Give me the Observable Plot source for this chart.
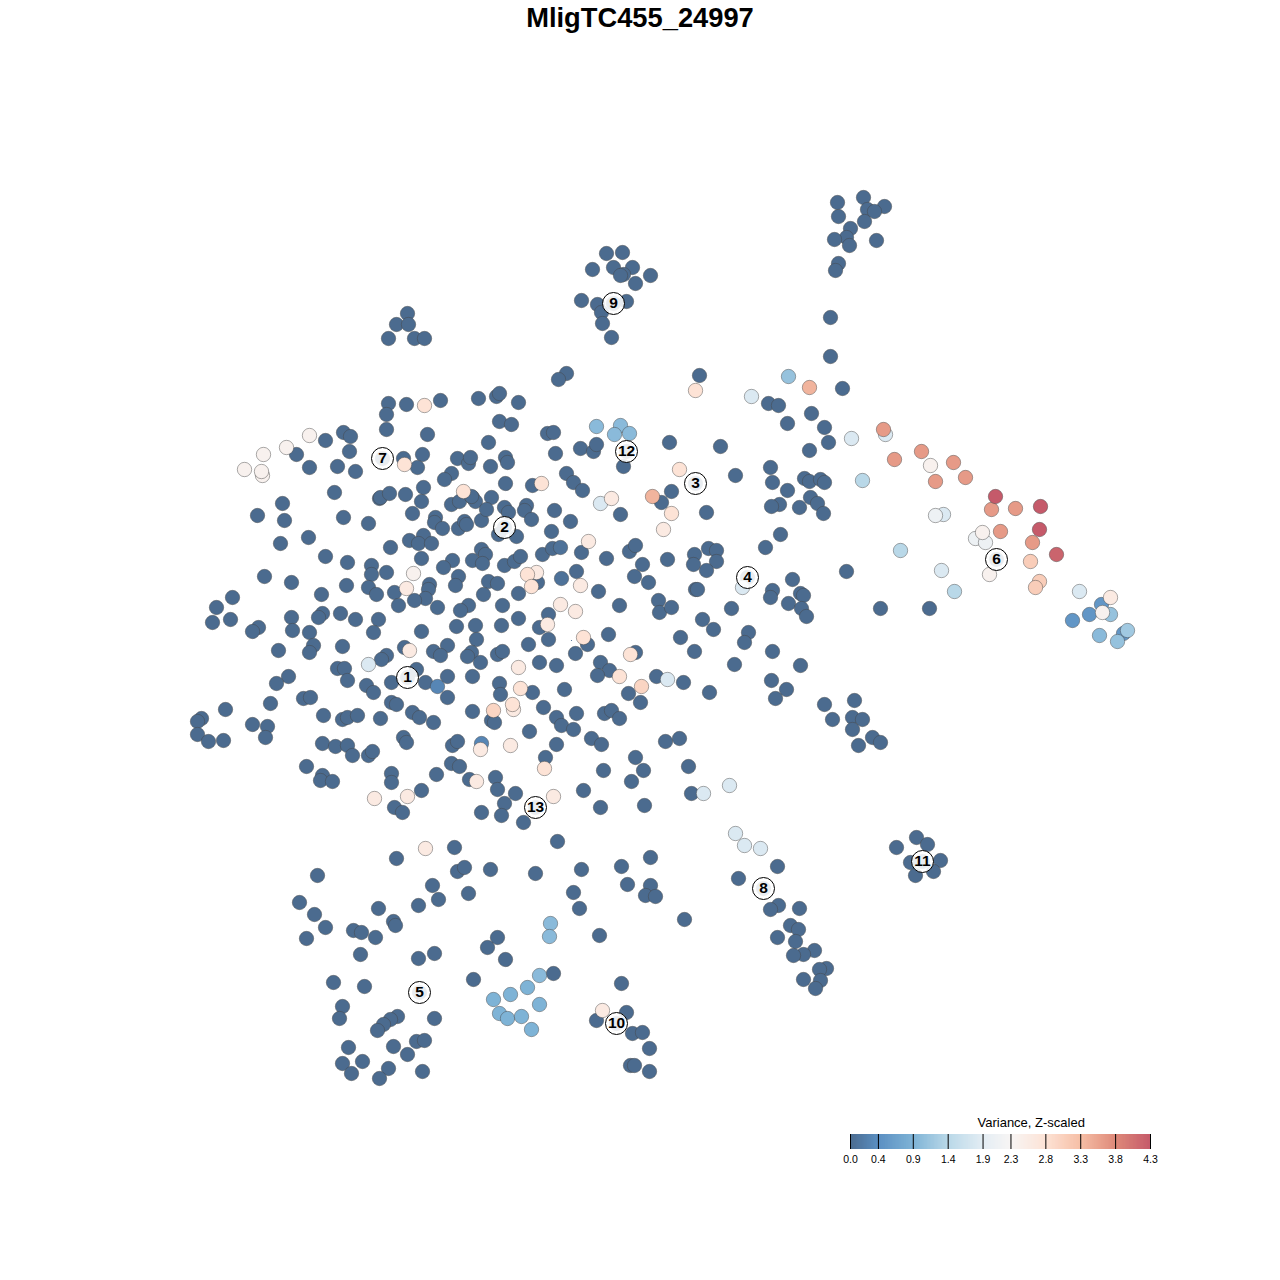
<!DOCTYPE html>
<html>
<head>
<meta charset="utf-8">
<title>MligTC455_24997</title>
<script src="https://cdn.jsdelivr.net/npm/d3@7"></script>
<script src="https://cdn.jsdelivr.net/npm/@observablehq/plot@0.6"></script>
<style>
html,body{margin:0;padding:0;background:#fff}
#stage{position:relative;width:1280px;height:1280px;overflow:hidden}
#chart-title{position:absolute;left:0;top:2px;width:1280px;text-align:center;font:bold 27.3px/32px "Liberation Sans",Arial,sans-serif;color:#000}
#main,#legend{position:absolute}
#main{left:0;top:0}
#legend{left:830px;top:1105px}
</style>
</head>
<body>
<div id="stage">
<div id="main"></div>
<div id="chart-title">MligTC455_24997</div>
<div id="legend"></div>
</div>
<script>
const titleText = "MligTC455_24997";
const legendTitle = "Variance, Z-scaled";
const colorDomain = [0,0.4,0.9,1.4,1.9,2.3,2.8,3.3,3.8,4.3];
const colorRange = ["#4b6b8f","#5b8fc2","#7eb3d6","#b9d8e8","#e3edf4","#f7f5f4","#fde3d6","#f6bfa6","#df8a7a","#c55a6a"];
const legendTicks = [0,0.4,0.9,1.4,1.9,2.3,2.8,3.3,3.8,4.3];
const clusterIds = [1,2,3,4,5,6,7,8,9,10,11,12,13];
const clusterX = [407,504,695,747,419,996,382,763,613,616,922,626,535];
const clusterY = [677,527,483,577,992,559,458,888,303,1023,861,451,807];

const level00 = [[388,403],[406,404],[440,400],[386,414],[386,429],[427,434],[343,432],[350,436],[325,440],[296,454],[349,451],[309,467],[337,466],[355,471],[403,458],[422,454],[417,467],[457,458],[468,463],[470,457],[451,473],[444,479],[334,492],[379,498],[380,497],[389,493],[405,494],[423,487],[421,501],[451,504],[459,501],[472,497],[475,501],[282,503],[257,515],[284,520],[343,517],[368,523],[412,513],[435,517],[434,522],[442,528],[458,528],[464,521],[466,524],[481,520],[280,543],[308,537],[325,556],[347,562],[390,547],[409,540],[423,535],[418,543],[431,543],[421,558],[452,560],[443,567],[472,560],[371,565],[371,574],[386,572],[264,576],[291,582],[346,585],[368,587],[376,594],[394,592],[429,584],[428,589],[425,598],[414,600],[398,605],[437,607],[458,576],[455,585],[468,605],[460,610],[321,594],[232,597],[216,607],[212,622],[230,619],[291,617],[322,613],[318,617],[340,613],[355,619],[378,619],
[478,398],[496,396],[499,393],[518,402],[499,421],[511,424],[547,433],[553,432],[488,442],[555,453],[580,448],[593,451],[596,444],[669,442],[623,466],[505,457],[507,462],[490,466],[505,483],[532,485],[566,473],[573,482],[582,490],[671,491],[661,502],[620,514],[491,497],[471,496],[504,507],[508,512],[486,509],[526,505],[524,510],[531,519],[554,510],[570,521],[498,534],[516,536],[551,531],[481,549],[485,554],[482,563],[504,565],[514,561],[520,556],[542,554],[552,548],[581,552],[606,558],[629,551],[635,545],[642,564],[667,559],[694,554],[693,564],[488,581],[497,583],[483,594],[502,605],[518,593],[537,582],[576,571],[598,591],[634,576],[648,582],[619,605],[658,600],[659,612],[671,607],[695,589],[548,614],[518,618],
[258,627],[252,631],[292,630],[309,632],[373,632],[421,631],[456,626],[475,625],[476,639],[278,650],[342,646],[313,645],[309,652],[386,655],[381,659],[404,647],[447,645],[433,651],[440,655],[471,652],[467,656],[480,662],[337,668],[344,668],[347,680],[288,676],[276,683],[366,685],[373,692],[391,682],[416,669],[425,682],[447,676],[472,676],[447,697],[270,703],[303,698],[310,697],[391,702],[396,704],[323,715],[342,719],[347,717],[357,715],[380,718],[412,712],[419,717],[433,722],[472,711],[225,709],[201,718],[197,721],[197,734],[208,741],[223,740],[252,724],[267,726],[265,737],[403,737],[406,742],[322,743],[335,746],[347,745],[352,755],[368,755],[372,751],[452,745],[457,741],[306,766],[322,775],[320,780],[332,781],[391,773],[391,782],[436,774],[451,763],[459,766],[469,779],[421,790],[394,807],[402,812],[481,812],
[501,625],[539,627],[528,644],[548,639],[497,654],[502,651],[539,662],[556,665],[575,653],[587,644],[608,634],[702,619],[713,629],[731,608],[680,637],[694,651],[600,662],[609,670],[597,675],[635,652],[656,676],[683,682],[499,683],[500,694],[532,692],[564,689],[628,693],[640,702],[709,692],[734,664],[543,707],[491,720],[494,722],[556,717],[561,725],[576,713],[573,729],[604,713],[611,710],[619,718],[529,731],[591,738],[601,744],[556,744],[665,741],[679,738],[545,757],[635,757],[603,770],[643,770],[688,766],[631,781],[495,777],[497,789],[515,793],[583,790],[691,793],[504,803],[501,815],[523,822],[600,807],[644,805],[557,841],
[606,253],[622,252],[592,269],[613,267],[632,267],[623,274],[620,275],[650,275],[635,283],[581,300],[597,304],[626,301],[601,312],[602,323],[611,337],[837,202],[863,197],[884,206],[867,209],[874,211],[838,216],[864,221],[850,228],[846,237],[834,239],[849,245],[876,240],[838,263],[835,270],[830,317],[830,356],[842,388],[699,375],[566,373],[558,379],[768,403],[778,405],[811,413],[787,423],
[407,313],[396,324],[408,324],[388,338],[414,338],[424,338],
[824,427],[828,442],[809,450],[720,446],[735,475],[770,467],[772,482],[787,490],[804,478],[809,481],[820,479],[824,482],[810,497],[817,503],[823,513],[779,504],[771,506],[799,507],[706,512],[780,534],[765,547],[708,548],[716,550],[716,561],[706,570],[697,589],[792,579],[772,590],[770,597],[800,593],[803,595],[788,603],[801,608],[806,616],[748,632],[744,642],[846,571],[880,608],[929,608],
[772,651],[800,665],[771,680],[786,689],[775,698],[824,704],[854,700],[832,719],[852,717],[862,719],[852,729],[872,737],[880,742],[858,745],[916,837],[927,844],[896,847],[910,862],[940,860],[915,875],[933,871],
[454,847],[396,858],[317,875],[490,869],[535,873],[457,871],[464,867],[432,885],[468,893],[299,902],[418,905],[438,899],[314,914],[378,908],[393,921],[395,925],[325,927],[353,930],[361,932],[375,937],[306,938],[360,954],[497,937],[487,947],[505,959],[434,953],[418,958],[333,982],[364,986],[473,979],[553,973],[342,1006],[339,1018],[434,1018],[397,1016],[390,1019],[383,1024],[377,1030],[348,1047],[393,1046],[416,1041],[424,1040],[407,1054],[342,1063],[362,1061],[351,1073],[388,1068],[379,1078],[422,1071],
[581,869],[621,866],[650,857],[627,884],[573,892],[650,885],[645,895],[655,896],[579,908],[684,919],[599,935],[621,983],[626,1012],[596,1020],[632,1033],[642,1032],[649,1048],[630,1065],[634,1065],[649,1071],
[777,866],[738,878],[778,905],[770,909],[799,908],[790,925],[798,929],[777,937],[795,941],[814,950],[803,954],[793,955],[826,968],[819,969],[820,980],[803,979],[815,988]];
const level01 = [[560,547],[561,578]];
const level03 = [[437,686],[481,743]];
const level05 = [[1101,604],[1089,614],[1072,620],[1123,633]];
const level09 = [[527,987],[510,994],[493,999],[539,1004],[499,1013],[507,1018],[521,1016],[531,1029]];
const level10 = [[596,426],[620,425],[614,434],[629,433],[550,923],[549,936],[539,975],[1099,635]];
const level11 = [[788,376],[1117,641],[1110,614]];
const level12 = [[1127,630]];
const level14 = [[862,480],[954,591],[900,550]];
const level18 = [[851,438],[885,434],[742,587],[600,503],[368,664],[667,679],[703,793],[729,785],[735,833],[744,845],[760,848],[941,570],[751,396],[1079,591],[943,514]];
const level21 = [[935,515],[975,538],[985,542]];
const level24 = [[309,435],[286,447],[263,454],[244,469],[262,475],[261,471],[413,573],[982,532],[989,574],[1102,612],[930,465]];
const level26 = [[663,529],[406,588],[588,541],[580,585],[560,604],[575,611],[547,624],[518,667],[510,745],[476,781],[553,796],[425,848],[602,1010],[1110,597],[407,796],[374,798],[480,749],[409,650],[513,709],[536,572],[611,498]];
const level28 = [[424,405],[404,464],[463,491],[541,483],[679,469],[671,513],[527,574],[531,586],[695,390],[583,637],[630,654],[520,688],[619,676],[512,704],[544,768]];
const level30 = [[641,686],[493,710]];
const level31 = [[1030,561],[1039,581],[1035,587]];
const level34 = [[652,496],[809,387]];
const level36 = [[894,459],[921,451],[953,462],[935,481],[965,477],[883,429],[991,509],[1015,508],[1000,531],[1032,542]];
const level42 = [[1056,554]];
const level43 = [[995,496],[1040,506],[1039,529]];
const speck = [[571,640]];

const levels = [[0,level00],[0.08,level01],[0.3,level03],[0.5,level05],[0.9,level09],[1.0,level10],[1.1,level11],[1.2,level12],[1.4,level14],[1.8,level18],[2.1,level21],[2.4,level24],[2.6,level26],[2.8,level28],[3.0,level30],[3.1,level31],[3.4,level34],[3.65,level36],[4.2,level42],[4.3,level43]];
const points = levels.flatMap(([v,pts]) => pts.map(([x,y]) => ({x,y,v})));
clusterX.forEach((x,i) => points.unshift({x,y:clusterY[i],v:0}));
const clusters = clusterIds.map((id,i) => ({id,x:clusterX[i],y:clusterY[i]}));
const colorScale = {type:"linear",domain:colorDomain,range:colorRange};

const main = Plot.plot({
  width:1280,height:1280,margin:0,
  style:{background:"transparent"},
  x:{axis:null,domain:[0,1280],range:[0,1280]},
  y:{axis:null,domain:[0,1280],range:[0,1280]},
  color:colorScale,
  marks:[
    Plot.dot(speck,{x:d=>d[0],y:d=>d[1],r:0.6,fill:"#4b6b8f"}),
    Plot.dot(points,{x:"x",y:"y",fill:"v",r:7.2,stroke:"#444",strokeOpacity:0.45,strokeWidth:1}),
    Plot.dot(clusters,{x:"x",y:"y",r:11,fill:"#fff",fillOpacity:0.88,stroke:"#000",strokeWidth:1}),
    Plot.text(clusters,{x:"x",y:"y",text:d=>String(d.id),fill:"#000",fontSize:15.5,fontWeight:"bold",fontFamily:"Liberation Sans",textAnchor:"middle",lineAnchor:"middle"})
  ]
});
document.getElementById("main").append(main);

const stripes = d3.range(0,4.3,0.02).map(a => ({a,b:Math.min(4.3,a+0.05),v:a+0.01}));
const legend = Plot.plot({
  width:340,height:65,margin:0,
  style:{background:"transparent",fontFamily:"Liberation Sans"},
  x:{axis:null,domain:[0,4.3],range:[20,320]},
  y:{axis:null,domain:[0,1],range:[44,29]},
  color:colorScale,
  marks:[
    Plot.rect(stripes,{x1:"a",x2:"b",y1:0,y2:1,fill:"v"}),
    Plot.ruleX(legendTicks,{x:d=>d,y1:0,y2:1,stroke:"#000",strokeWidth:1}),
    Plot.text(legendTicks,{x:d=>d,y:0,dy:6,text:d=>d.toFixed(1),fontSize:10.5,fill:"#000",fontFamily:"Liberation Sans",lineAnchor:"top"}),
    Plot.text([legendTitle],{x:[2.59],y:[1],dy:-12,text:d=>d,fontSize:13,fill:"#000",fontFamily:"Liberation Sans"})
  ]
});
document.getElementById("legend").append(legend);
</script>
</body>
</html>
